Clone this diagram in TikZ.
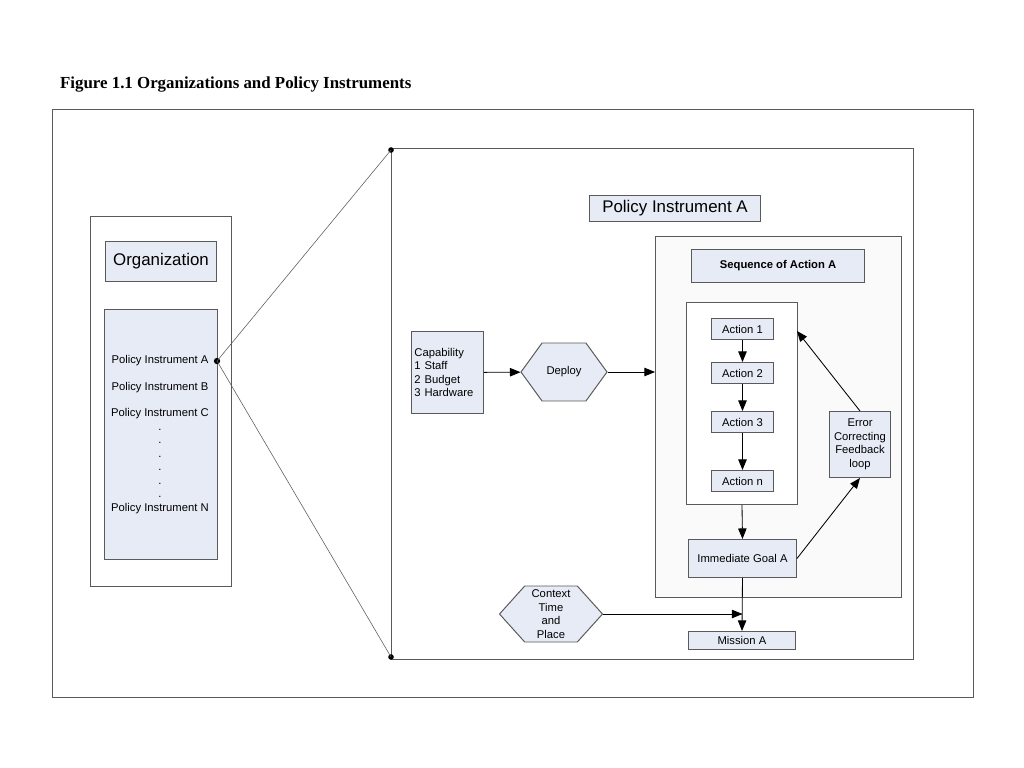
\documentclass[tikz,border=0pt]{standalone}
\usepackage{fontspec}
\setmainfont{Liberation Serif}
\setsansfont{Liberation Sans}
\usetikzlibrary{arrows.meta,shapes.symbols,positioning}

\definecolor{boxblue}{HTML}{E6EBF5}
\definecolor{framefill}{HTML}{FAFAFA}
\definecolor{edgegray}{HTML}{5A5A5A}

\begin{document}
\begin{tikzpicture}[x=0.025cm, y=-0.025cm, >={Triangle[length=7.5pt,width=6pt]}, font=\sffamily\fontsize{8}{9.6}\selectfont, semithick]

        \tikzstyle{frame}=[draw=edgegray, line width=0.7pt, anchor=north west, inner sep=0pt]
        \tikzstyle{bluebox}=[frame, fill=boxblue]
        \tikzstyle{actbox}=[bluebox, minimum width=62*0.025cm, minimum height=21*0.025cm]
        \tikzstyle{hexa}=[signal, signal to=west and east, draw=edgegray, line width=0.7pt, fill=boxblue, inner sep=0pt, align=center]
        \tikzstyle{dot}=[circle, fill=black, inner sep=0pt, minimum size=4.5pt]
        \tikzstyle{flow}=[->, line width=0.6pt]

        \useasboundingbox (0,0) rectangle (1024,768);

        \node[anchor=west, font=\rmfamily\bfseries\fontsize{12}{14}\selectfont] (title) at (55,85) {Figure 1.1 Organizations and Policy Instruments};
        \node[frame, minimum width=921*0.025cm, minimum height=588*0.025cm] (page) at (52,109) {};

        % organization side
        \node[frame, minimum width=141*0.025cm, minimum height=370*0.025cm] (org) at (90,216) {};
        \node[bluebox, minimum width=111*0.025cm, minimum height=40*0.025cm, font=\sffamily\fontsize{12}{14}\selectfont] (orgname) at (105,241) {Organization};
        \node[bluebox, minimum width=113*0.025cm, minimum height=250*0.025cm] (list) at (104,309) {};
        \node[anchor=north, align=center] (items) at (160,350) {Policy Instrument A\\[9.5pt] Policy Instrument B\\[9.5pt] Policy Instrument C\\ .\\ .\\ .\\ .\\ .\\ .\\ Policy Instrument N};
        \node[dot] (pa) at (217,361) {};

        % zoomed policy instrument
        \node[frame, minimum width=522*0.025cm, minimum height=511*0.025cm] (zoom) at (391,148) {};
        \node[dot, minimum size=4pt] (zt) at (391,150) {};
        \node[dot, minimum size=4pt] (zb) at (391,657) {};
        \node[bluebox, minimum width=171*0.025cm, minimum height=26*0.025cm, font=\sffamily\fontsize{12}{14}\selectfont] (pia) at (589,195) {Policy Instrument A};

        \node[bluebox, minimum width=72*0.025cm, minimum height=82*0.025cm, align=left, text width=66*0.025cm] (cap) at (411,331) {Capability\\1 Staff\\2 Budget\\3 Hardware};
        \node[hexa, minimum width=86*0.025cm, minimum height=58*0.025cm, signal pointer angle=108] (deploy) at (564,372) {Deploy};
        \node[hexa, minimum width=103*0.025cm, minimum height=56*0.025cm, signal pointer angle=96] (context) at (551,614) {Context\\Time\\and\\Place};

        \node[frame, fill=framefill, minimum width=246*0.025cm, minimum height=361*0.025cm] (seq) at (655,236) {};
        \node[bluebox, minimum width=173*0.025cm, minimum height=33*0.025cm, font=\sffamily\bfseries\fontsize{8}{9.6}\selectfont] (seqname) at (691,249) {Sequence of Action A};
        \node[frame, fill=white, minimum width=111*0.025cm, minimum height=202*0.025cm] (acts) at (686,302) {};
        \node[actbox] (act1) at (711,318) {Action 1};
        \node[actbox] (act2) at (711,362) {Action 2};
        \node[actbox] (act3) at (711,411) {Action 3};
        \node[actbox] (actn) at (711,470) {Action n};
        \node[bluebox, minimum width=108*0.025cm, minimum height=38*0.025cm] (goal) at (688,539) {Immediate Goal A};
        \node[bluebox, minimum width=61*0.025cm, minimum height=66*0.025cm, align=center] (error) at (829,411) {Error\\Correcting\\Feedback\\loop};
        \node[bluebox, minimum width=107*0.025cm, minimum height=18*0.025cm] (mission) at (688,631) {Mission A};
        \coordinate (back) at (797,331);

        \draw[draw=edgegray, line width=0.4pt] (pa.center) -- (zt.center);
        \draw[draw=edgegray, line width=0.4pt] (pa.center) -- (zb.center);

        \path[flow]
        (cap)          edge (deploy)
        (deploy.east)  edge (seq.west |- deploy.east)
        (act1)         edge (act2)
        (act2)         edge (act3)
        (act3)         edge (actn)
        (acts.south)   edge (goal.north)
        (goal.east)    edge (error.south)
        (error.north)  edge (back)
        (goal.south)   edge (mission.north)
        (context.east) edge (goal.south |- context.east)
        ;
\end{tikzpicture}
\end{document}
